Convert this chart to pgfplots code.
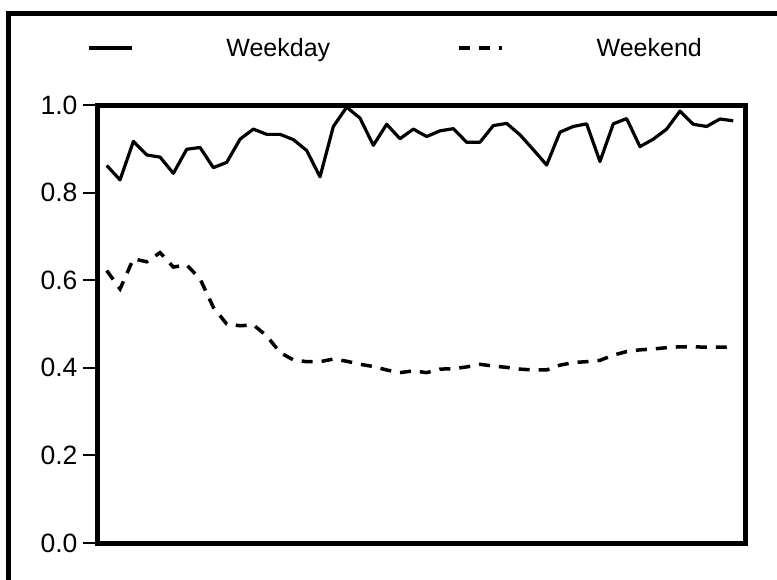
\documentclass[border=0pt]{standalone}
\usepackage{pgfplots}
\pgfplotsset{compat=1.18}
\usepackage{pgfplotstable}
\usepackage{fontspec}
\setmainfont{Liberation Sans}

\pgfplotstableread{
x wd we
1 0.862 0.622
2 0.829 0.580
3 0.917 0.649
4 0.886 0.642
5 0.881 0.663
6 0.844 0.630
7 0.899 0.635
8 0.903 0.603
9 0.857 0.538
10 0.869 0.500
11 0.922 0.496
12 0.945 0.498
13 0.933 0.473
14 0.933 0.435
15 0.921 0.418
16 0.896 0.414
17 0.836 0.414
18 0.951 0.420
19 0.995 0.415
20 0.970 0.408
21 0.908 0.403
22 0.956 0.395
23 0.923 0.389
24 0.945 0.393
25 0.928 0.389
26 0.941 0.397
27 0.946 0.398
28 0.915 0.402
29 0.915 0.408
30 0.953 0.404
31 0.958 0.401
32 0.932 0.397
33 0.898 0.395
34 0.863 0.395
35 0.938 0.406
36 0.951 0.412
37 0.957 0.414
38 0.871 0.417
39 0.957 0.429
40 0.969 0.437
41 0.905 0.441
42 0.922 0.443
43 0.945 0.446
44 0.986 0.448
45 0.956 0.448
46 0.951 0.447
47 0.968 0.447
48 0.964 0.448
}\datatable

\begin{document}
\begin{tikzpicture}
\useasboundingbox (0pt,0pt) rectangle (777pt,-579pt);
\draw[line width=5pt] (8pt,-590pt) -- (8pt,-13pt) -- (790pt,-13pt);
\begin{axis}[
  at={(97pt,-543pt)}, anchor=south west,
  scale only axis, width=648pt, height=438pt,
  xmin=0.27, xmax=48.88, ymin=0, ymax=1,
  xtick=\empty,
  ytick={0,0.2,0.4,0.6,0.8,1},
  ytick pos=left,
  tick align=outside,
  major tick length=14pt,
  major tick style={line width=2pt, black},
  axis line style={line width=5pt},
  yticklabel style={font=\fontsize{26.5}{26.5}\selectfont, xshift=-2pt, /pgf/number format/.cd, fixed, fixed zerofill, precision=1, assume math mode=true},
  legend style={at={(axis description cs:-0.0154,1.130)}, anchor=west, draw=none, fill=none, inner sep=0pt,
    font=\fontsize{25}{25}\selectfont,
    /tikz/every odd column/.append style={column sep=91pt},
    /tikz/every even column/.append style={column sep=125pt}},
  legend columns=2,
  legend image code/.code={\draw[#1] (0pt,0pt) -- (43pt,0pt);},
]
\addplot[black, line width=3.2pt, line join=round] table[x=x, y=wd] {\datatable};
\addlegendentry{Weekday}
\addplot[black, line width=3.5pt, dash pattern=on 11pt off 9pt] table[x=x, y=we] {\datatable};
\addlegendentry{Weekend}
\end{axis}
\end{tikzpicture}
\end{document}
